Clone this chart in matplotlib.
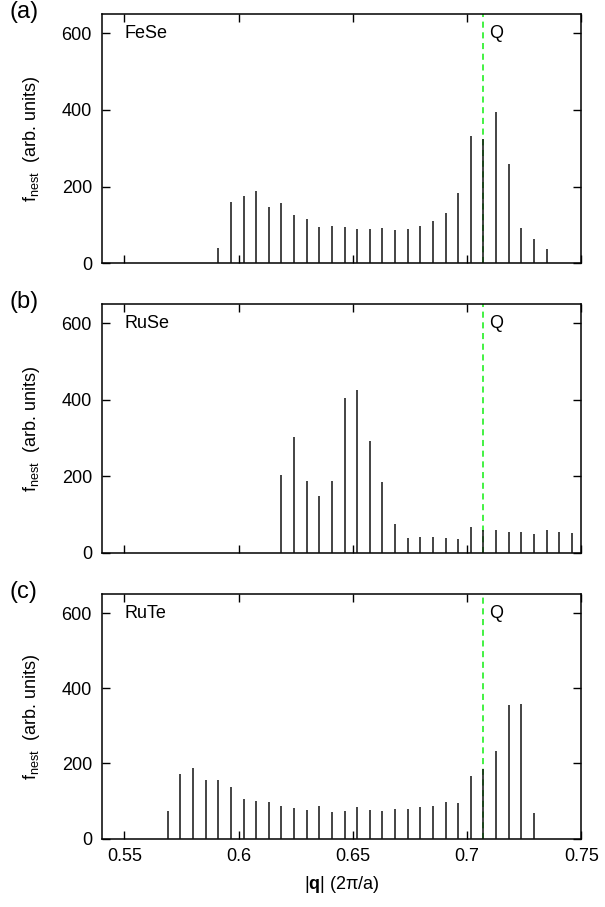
import matplotlib
matplotlib.use("Agg")
import matplotlib.pyplot as plt

plt.rcParams['font.family'] = ['Liberation Sans', 'DejaVu Sans']
plt.rcParams['mathtext.fontset'] = 'custom'
plt.rcParams['mathtext.rm'] = 'Liberation Sans'
plt.rcParams['mathtext.bf'] = 'Liberation Sans:bold'

# q positions (2pi/a) and nesting function values
q_fese = [0.5911, 0.5966, 0.6022, 0.6077, 0.6132, 0.6187, 0.6243, 0.6298, 0.6353,
          0.6408, 0.6464, 0.6519, 0.6574, 0.6629, 0.6685, 0.6740, 0.6795, 0.6850,
          0.6906, 0.6961, 0.7016, 0.7071, 0.7127, 0.7182, 0.7237, 0.7292, 0.7348]
f_fese = [39, 160, 175, 188, 148, 158, 126, 115, 95, 98, 95, 90, 89, 92, 88, 89,
          97, 111, 132, 183, 331, 324, 394, 259, 93, 64, 38]

q_ruse = [0.6187, 0.6243, 0.6298, 0.6353, 0.6408, 0.6464, 0.6519, 0.6574, 0.6629,
          0.6685, 0.6740, 0.6795, 0.6850, 0.6906, 0.6961, 0.7016, 0.7071, 0.7127,
          0.7182, 0.7237, 0.7292, 0.7348, 0.7403, 0.7458]
f_ruse = [204, 303, 187, 149, 187, 404, 426, 293, 186, 75, 39, 41, 41, 38, 35,
          67, 60, 59, 53, 54, 50, 60, 54, 51]

q_rute = [0.5690, 0.5745, 0.5800, 0.5856, 0.5911, 0.5966, 0.6022, 0.6077, 0.6132,
          0.6187, 0.6243, 0.6298, 0.6353, 0.6408, 0.6464, 0.6519, 0.6574, 0.6629,
          0.6685, 0.6740, 0.6795, 0.6850, 0.6906, 0.6961, 0.7016, 0.7071, 0.7127,
          0.7182, 0.7237, 0.7292]
f_rute = [73, 173, 188, 157, 155, 137, 105, 100, 97, 88, 82, 76, 88, 71, 74, 83,
          76, 74, 80, 80, 85, 87, 97, 95, 166, 185, 234, 356, 359, 69]

Q = 0.7071
panels = [("(a)", "FeSe", q_fese, f_fese),
          ("(b)", "RuSe", q_ruse, f_ruse),
          ("(c)", "RuTe", q_rute, f_rute)]
xticks = [0.55, 0.6, 0.65, 0.7, 0.75]
yticks = [0, 200, 400, 600]

fig = plt.figure(figsize=(6.05, 9.07), dpi=100)
boxes = [[0.168, 0.7097, 0.793, 0.2749],
         [0.168, 0.3906, 0.793, 0.2742],
         [0.168, 0.0753, 0.793, 0.2695]]

for i, (tag, name, q, f) in enumerate(panels):
    ax = fig.add_axes(boxes[i])
    ax.axvline(Q, color='#11ee11', linestyle=(0, (4, 3)), linewidth=1.1, zorder=2)
    ax.vlines(q, 0, f, color='#111111', linewidth=1.1, zorder=3)
    ax.set_xlim(0.54, 0.75)
    ax.set_ylim(0, 650)
    ax.set_xticks(xticks)
    ax.set_yticks(yticks)
    ax.tick_params(direction='in', top=True, right=True, length=6, width=1,
                   labelsize=13, pad=7)
    for s in ax.spines.values():
        s.set_linewidth(1.1)
    if i < 2:
        ax.set_xticklabels([])
    else:
        ax.set_xticklabels(['0.55', '0.6', '0.65', '0.7', '0.75'])
        ax.set_xlabel(r'$|\mathbf{q}|$ (2π/a)', fontsize=13, labelpad=6)
    ax.set_ylabel(r'f$_{\rm nest}$  (arb. units)', fontsize=13, labelpad=14)
    ax.text(0.55, 600, name, fontsize=13, ha='left', va='center')
    ax.text(0.7095, 600, 'Q', fontsize=13, ha='left', va='center')
    fig.text(0.015, boxes[i][1] + boxes[i][3] + 0.002, tag, fontsize=17,
             ha='left', va='center')

fig.savefig("out.png", dpi=100)
